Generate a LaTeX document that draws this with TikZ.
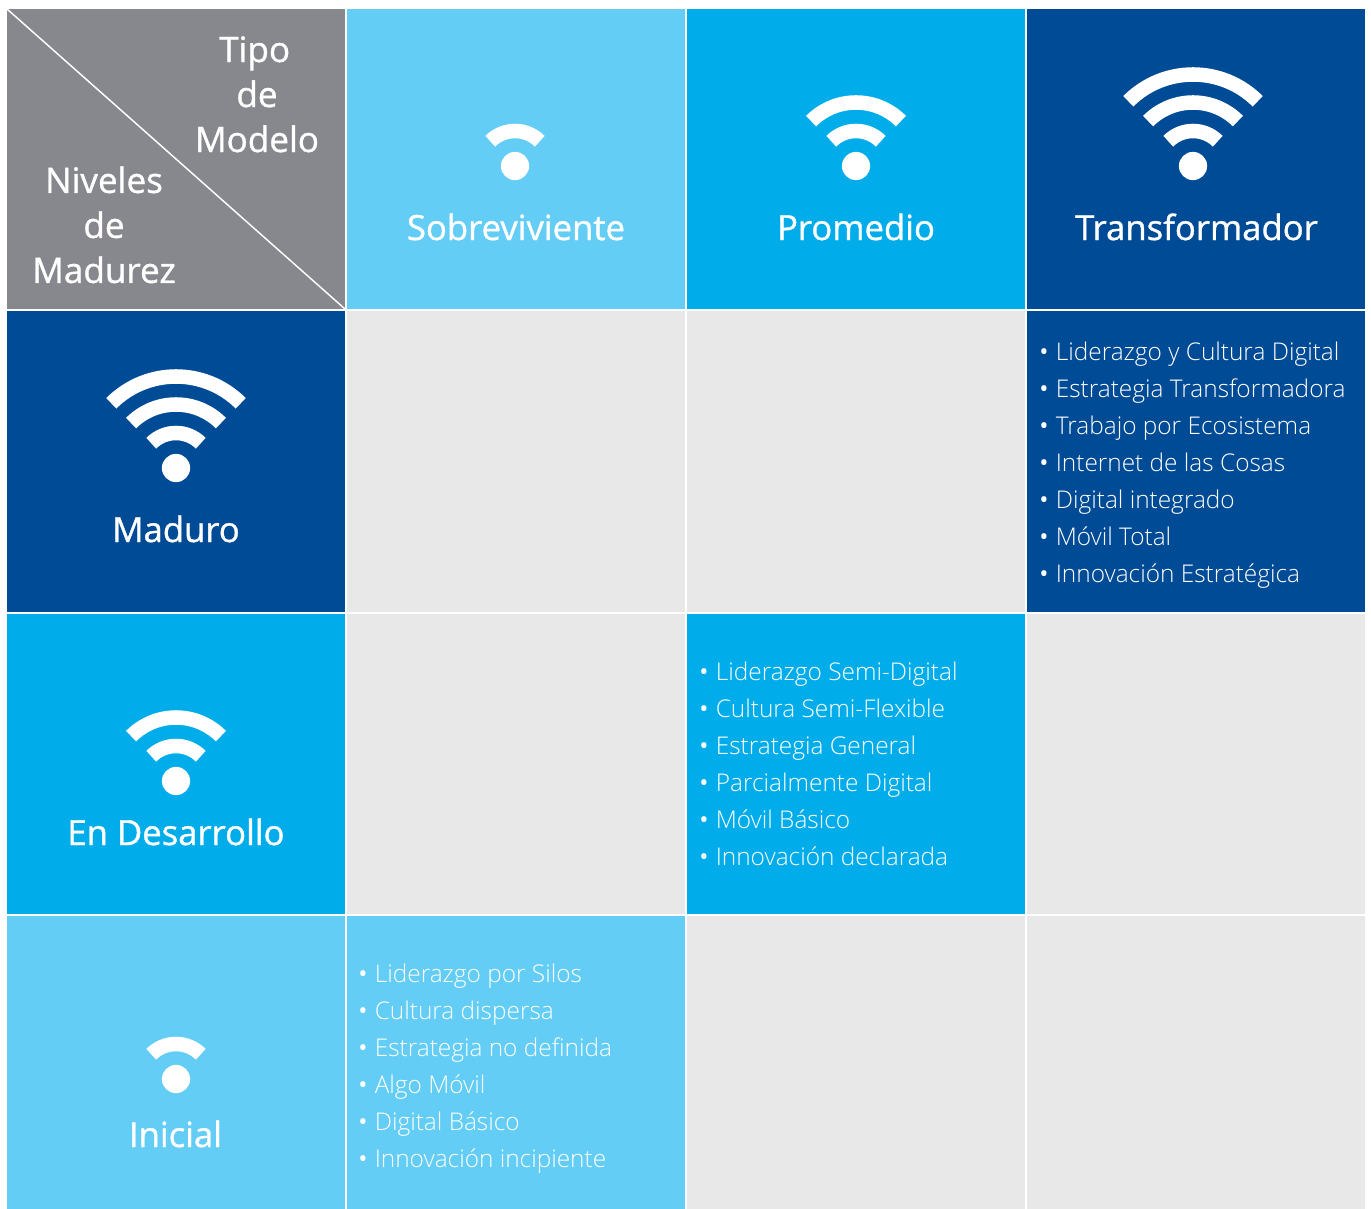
\documentclass[tikz,border=0pt]{standalone}
\usepackage{fontspec}
\setmainfont{Open Sans}
\newfontfamily\listfont{Open Sans Light}
\newfontfamily\headfont{Open Sans}[FakeBold=1]
\definecolor{grayc}{HTML}{87888D}
\definecolor{lightc}{HTML}{63CDF5}
\definecolor{midc}{HTML}{00ADEA}
\definecolor{darkc}{HTML}{004B96}
\definecolor{emptyc}{HTML}{E8E8E8}
\tikzset{
  cell/.style={inner sep=0pt,outer sep=0pt,minimum width=253.5pt,minimum height=#1},
  cell/.default=225pt,
  head/.style={text=white,anchor=base,inner sep=0pt,font=\headfont\fontsize{26}{33.75}\selectfont},
  stack/.style={text=white,anchor=north,inner sep=0pt,align=center,font=\headfont\fontsize{26.3}{33.75}\selectfont},
  items/.style={text=white,anchor=north west,inner sep=0pt,align=left,font=\listfont\fontsize{18.3}{27.75}\selectfont},
  wifiarc/.style={white,line width=10.9pt,line cap=butt},
  diag/.style={white,line width=1.1pt}
}
\newcommand{\wifiarcs}[1]{%
  \foreach \r in {#1}{\draw[wifiarc] (135:\r*0.75pt) arc[start angle=135,end angle=45,radius=\r*0.75pt];}}
\newcommand{\wifiicon}[3]{%
  \begin{scope}[shift={(#1,#2)}]
    \fill[white] (0,0) circle[radius=10.6pt];
    \wifiarcs{#3}
  \end{scope}}
\newcommand{\itm}[1]{\makebox[12.4pt][l]{\normalfont•}#1\\}
\begin{document}
\begin{tikzpicture}[x=0.75pt,y=-0.75pt]
\useasboundingbox (0,0) rectangle (1371,1209);
\fill[white] (0,0) rectangle (1371,1209);
% header row
\node[cell,fill=grayc]  (corner) at (176,159) {};
\node[cell,fill=lightc] (hA) at (516,159) {};
\node[cell,fill=midc]   (hB) at (856,159) {};
\node[cell,fill=darkc]  (hC) at (1196,159) {};
% row Maduro
\node[cell=225.75pt,fill=darkc]  (rM) at (176,461.5) {};
\node[cell=225.75pt,fill=emptyc] (mA) at (516,461.5) {};
\node[cell=225.75pt,fill=emptyc] (mB) at (856,461.5) {};
\node[cell=225.75pt,fill=darkc]  (mC) at (1196,461.5) {};
% row En Desarrollo
\node[cell,fill=midc]   (rD) at (176,764) {};
\node[cell,fill=emptyc] (dA) at (516,764) {};
\node[cell,fill=midc]   (dB) at (856,764) {};
\node[cell,fill=emptyc] (dC) at (1196,764) {};
% row Inicial
\node[cell=219.75pt,fill=lightc] (rI) at (176,1062.5) {};
\node[cell=219.75pt,fill=lightc] (iA) at (516,1062.5) {};
\node[cell=219.75pt,fill=emptyc] (iB) at (856,1062.5) {};
\node[cell=219.75pt,fill=emptyc] (iC) at (1196,1062.5) {};
% corner
\draw[diag] (corner.north west) -- (corner.south east);
\node[stack] (tipo) at (257,36) {Tipo\hspace*{3.5pt}\\de\\Modelo};
\node[stack] (niv) at (104,166) {Niveles\\de\\Madurez};
% icons
\wifiicon{515}{166}{35}
\wifiicon{856}{166}{35,63.5}
\wifiicon{1193}{166}{35,63.5,91.5}
\wifiicon{176}{468}{35,63.5,91.5}
\wifiicon{176}{781}{35,63.5}
\wifiicon{176}{1079}{35}
% labels
\node[head] (lA) at (516,240) {Sobreviviente};
\node[head] (lB) at (856,240) {Promedio};
\node[head] (lC) at (1196.5,240) {Transformador};
\node[head] (lM) at (176,542) {Maduro};
\node[head] (lD) at (176,845) {En Desarrollo};
\node[head] (lI) at (175.5,1147) {Inicial};
% lists
\node[items] (listC) at (1039,342) {\itm{Liderazgo y Cultura Digital}\itm{Estrategia Transformadora}\itm{Trabajo por Ecosistema}\itm{Internet de las Cosas}\itm{Digital integrado}\itm{Móvil Total}\itm{Innovación Estratégica}};
\node[items] (listB) at (699,662) {\itm{Liderazgo Semi-Digital}\itm{Cultura Semi-Flexible}\itm{Estrategia General}\itm{Parcialmente Digital}\itm{Móvil Básico}\itm{Innovación declarada}};
\node[items] (listA) at (358,964) {\itm{Liderazgo por Silos}\itm{Cultura dispersa}\itm{Estrategia no definida}\itm{Algo Móvil}\itm{Digital Básico}\itm{Innovación incipiente}};
\end{tikzpicture}
\end{document}
